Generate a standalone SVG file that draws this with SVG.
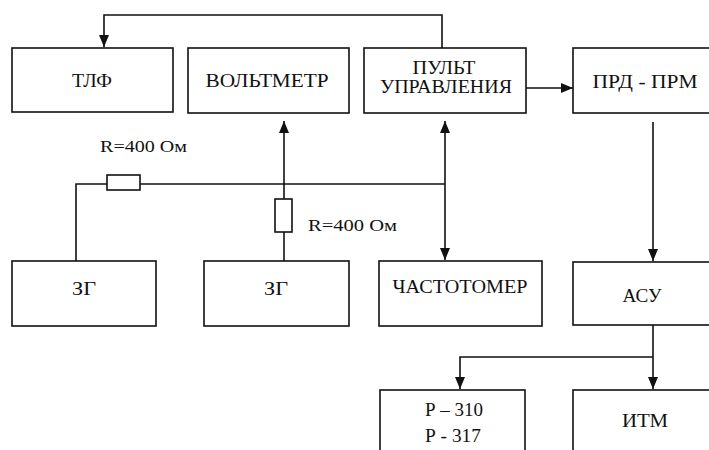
<svg xmlns="http://www.w3.org/2000/svg" width="709" height="450" viewBox="0 0 709 450">
<style>
.box{fill:#fff;stroke:#111;stroke-width:1.6}
.lbl{font-family:"Liberation Serif","DejaVu Serif","Times New Roman",serif;font-size:19px;fill:#111;text-anchor:middle}
.rl{font-family:"Liberation Serif","DejaVu Serif","Times New Roman",serif;font-size:16px;fill:#111}
.ln{fill:none;stroke:#111;stroke-width:1.6}
.res{fill:#fff;stroke:#111;stroke-width:1.6}
</style>
<defs>
<marker id="ah" markerUnits="userSpaceOnUse" markerWidth="12" markerHeight="10" refX="12" refY="5" orient="auto-start-reverse" viewBox="0 0 12 10">
<path d="M0,0 L12,5 L0,10 Z" fill="#111"/>
</marker>
</defs>
<rect width="709" height="450" fill="#fff"/>
<g id="connectors">
<path class="ln" d="M442,48 V15 H104 V47" marker-end="url(#ah)"/>
<path class="ln" d="M526,88 H573" marker-end="url(#ah)"/>
<path class="ln" d="M653,122 V261" marker-end="url(#ah)"/>
<path class="ln" d="M653,325 V389" marker-end="url(#ah)"/>
<path class="ln" d="M653,357 H460 V389" marker-end="url(#ah)"/>
<path class="ln" d="M284,261 V232"/>
<path class="ln" d="M284,199 V121" marker-end="url(#ah)"/>
<path class="ln" d="M445,121 V260" marker-start="url(#ah)" marker-end="url(#ah)"/>
<path class="ln" d="M76,261 V184 H107"/>
<path class="ln" d="M140,184 H445"/>
</g>
<g id="resistor1">
<rect class="res" x="107" y="175" width="33" height="15"/>
<text class="rl" x="100" y="152" textLength="87" lengthAdjust="spacingAndGlyphs">R=400 Ом</text>
</g>
<g id="resistor2">
<rect class="res" x="275" y="199" width="17" height="33"/>
<text class="rl" x="308" y="231" textLength="89" lengthAdjust="spacingAndGlyphs">R=400 Ом</text>
</g>
<g id="tlf">
<rect class="box" x="12" y="48" width="161" height="64"/>
<text class="lbl" x="92" y="87" textLength="40" lengthAdjust="spacingAndGlyphs">ТЛФ</text>
</g>
<g id="voltmeter">
<rect class="box" x="188" y="48" width="161" height="65"/>
<text class="lbl" x="267" y="87" textLength="123" lengthAdjust="spacingAndGlyphs">ВОЛЬТМЕТР</text>
</g>
<g id="pult">
<rect class="box" x="364" y="48" width="162" height="65"/>
<text class="lbl" x="444" y="74" font-size="16" textLength="63" lengthAdjust="spacingAndGlyphs">ПУЛЬТ</text>
<text class="lbl" x="446" y="93" font-size="16" textLength="132" lengthAdjust="spacingAndGlyphs">УПРАВЛЕНИЯ</text>
</g>
<g id="prd">
<rect class="box" x="573" y="48" width="150" height="65"/>
<text class="lbl" x="645" y="88" textLength="105" lengthAdjust="spacingAndGlyphs">ПРД - ПРМ</text>
</g>
<g id="zg1">
<rect class="box" x="12" y="261" width="144" height="65"/>
<text class="lbl" x="84" y="295" textLength="24" lengthAdjust="spacingAndGlyphs">ЗГ</text>
</g>
<g id="zg2">
<rect class="box" x="204" y="261" width="145" height="65"/>
<text class="lbl" x="276" y="295" textLength="24" lengthAdjust="spacingAndGlyphs">ЗГ</text>
</g>
<g id="freq">
<rect class="box" x="379" y="261" width="163" height="65"/>
<text class="lbl" x="460" y="293" textLength="135" lengthAdjust="spacingAndGlyphs">ЧАСТОТОМЕР</text>
</g>
<g id="asu">
<rect class="box" x="573" y="262" width="150" height="63"/>
<text class="lbl" x="642" y="302" textLength="39" lengthAdjust="spacingAndGlyphs">АСУ</text>
</g>
<g id="p310">
<rect class="box" x="380" y="390" width="145" height="70"/>
<text class="lbl" x="454" y="416" textLength="58" lengthAdjust="spacingAndGlyphs">Р – 310</text>
<text class="lbl" x="453" y="442" textLength="56" lengthAdjust="spacingAndGlyphs">Р - 317</text>
</g>
<g id="itm">
<rect class="box" x="573" y="390" width="150" height="70"/>
<text class="lbl" x="645" y="427" textLength="46" lengthAdjust="spacingAndGlyphs">ИТМ</text>
</g>
</svg>
